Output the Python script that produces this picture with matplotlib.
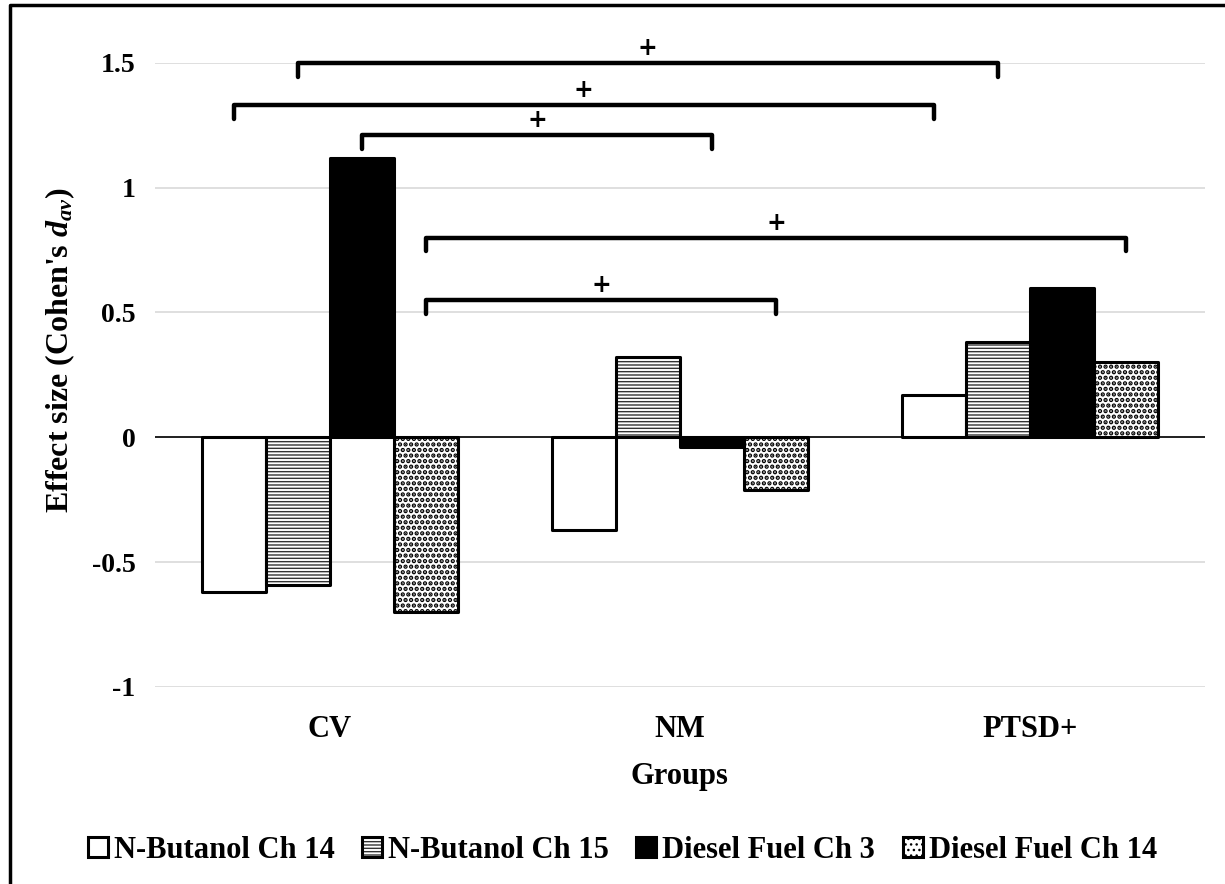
import matplotlib
matplotlib.use('Agg')
import matplotlib.pyplot as plt
from matplotlib.lines import Line2D
import numpy as np

plt.rcParams['font.family'] = ['Liberation Serif', 'DejaVu Serif']
plt.rcParams['font.weight'] = 'bold'
plt.rcParams['mathtext.fontset'] = 'custom'
plt.rcParams['mathtext.it'] = 'Liberation Serif:italic:bold'
plt.rcParams['mathtext.rm'] = 'Liberation Serif:bold'

groups = ['CV', 'NM', 'PTSD+']
series = ['N-Butanol Ch 14', 'N-Butanol Ch 15', 'Diesel Fuel Ch 3', 'Diesel Fuel Ch 14']
butanol_14 = [-0.62, -0.37, 0.17]
butanol_15 = [-0.59, 0.32, 0.38]
diesel_3 = [1.12, -0.04, 0.60]
diesel_14 = [-0.70, -0.21, 0.30]
values = [butanol_14, butanol_15, diesel_3, diesel_14]

# significance brackets: (group, series) -> (group, series), height
brackets = [((0, 1), (2, 1), 1.50),
            ((0, 0), (2, 0), 1.33),
            ((0, 2), (1, 2), 1.21),
            ((0, 3), (2, 3), 0.80),
            ((0, 3), (1, 3), 0.55)]

faces = ['white', 'white', 'black', 'white']
hatches = [None, '-----', None, '...']
hatch_cols = ['black', '#333333', 'black', 'black']

fig = plt.figure(figsize=(12.25, 8.84), dpi=100)
ax = fig.add_axes([0.1265, 0.2229, 0.857, 0.706])

x = np.arange(len(groups))
width = 0.183
offsets = (np.arange(len(series)) - 1.5) * width

for i, s in enumerate(series):
    b = ax.bar(x + offsets[i], values[i], width, color=faces[i], edgecolor='black',
               linewidth=2.2, hatch=hatches[i], label=s, zorder=3)
    for p in b:
        p.set_joinstyle('round')
        if hatches[i]:
            p._hatch_color = matplotlib.colors.to_rgba(hatch_cols[i])
            if hasattr(p, 'set_hatch_linewidth'):
                p.set_hatch_linewidth(2.2 if hatches[i] == '...' else 1.0)

ax.axhline(0, color='black', linewidth=1.2, zorder=4)

tick_len = 0.055
for (g1, s1), (g2, s2), h in brackets:
    x1 = x[g1] + offsets[s1]
    x2 = x[g2] + offsets[s2]
    ax.plot([x1, x1, x2, x2], [h - tick_len, h, h, h - tick_len], color='black',
            linewidth=3.2, solid_capstyle='round', solid_joinstyle='round',
            clip_on=False, zorder=5)
    ax.text((x1 + x2) / 2, h + 0.012, '+', ha='center', va='bottom', fontsize=17,
            fontweight='bold', family='DejaVu Sans', clip_on=False)

ax.set_xlim(-0.5, 2.5)
ax.set_ylim(-1, 1.5)
ax.set_yticks([-1, -0.5, 0, 0.5, 1, 1.5])
ax.set_yticklabels(['-1', '-0.5', '0', '0.5', '1', '1.5'])
ax.set_xticks(x)
ax.set_xticklabels(groups)
ax.tick_params(axis='y', length=0, pad=14, labelsize=20)
ax.tick_params(axis='x', length=0, pad=20, labelsize=22)
ax.grid(axis='y', color='#d9d9d9', linewidth=1.2, zorder=0)
ax.set_axisbelow(True)
for sp in ax.spines.values():
    sp.set_visible(False)

ax.set_xlabel('Groups', fontsize=22, fontweight='bold', labelpad=13)
ax.set_ylabel("Effect size (Cohen's $d_{av}$)", fontsize=23, fontweight='bold')
ax.yaxis.set_label_coords(-0.074, 0.54)

fig.legend(loc='center', bbox_to_anchor=(0.508, 0.038), ncol=4, frameon=False,
           prop={'size': 22, 'weight': 'bold'}, handlelength=0.65, handleheight=0.65,
           handletextpad=0.2, columnspacing=0.9)

# border of the chart area (left and top edges show in the crop)
fig.add_artist(Line2D([0.008, 0.008, 1.0], [0.0, 0.994, 0.994], transform=fig.transFigure,
                      color='black', linewidth=2.5))

fig.savefig('out.png', dpi=100)
